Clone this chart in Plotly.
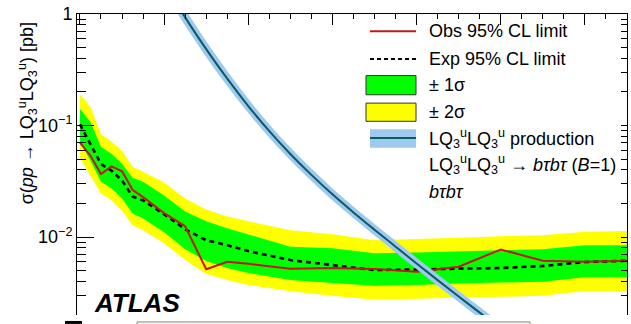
import plotly.graph_objects as go

# ---------------- data ----------------
mass = [200, 225, 250, 275, 300, 325, 350, 400, 450, 500, 550, 600,
        700, 800, 900, 1000, 1100, 1200, 1300, 1400, 1500]
obs = [0.0704, 0.0536, 0.0368, 0.0430, 0.0388, 0.0265, 0.0228, 0.0164, 0.0125,
       0.00514, 0.00600, 0.00576, 0.00520, 0.00528, 0.00517, 0.00489, 0.00542,
       0.00774, 0.00613, 0.00600, 0.00613]
exp = [0.1022, 0.0681, 0.0452, 0.0394, 0.0321, 0.0231, 0.0213, 0.0160, 0.01174,
       0.00937, 0.00846, 0.00748, 0.00622, 0.00561, 0.00506, 0.00512, 0.00522,
       0.00528, 0.00550, 0.00597, 0.00613]
p1s = [0.1405, 0.1076, 0.0644, 0.0558, 0.0455, 0.0341, 0.0314, 0.0236, 0.01698,
       0.01383, 0.01198, 0.01059, 0.00820, 0.00795, 0.00717, 0.00725, 0.00740,
       0.00763, 0.00779, 0.00846, 0.00846]
m1s = [0.0714, 0.0483, 0.0314, 0.0272, 0.0222, 0.0163, 0.0147, 0.01104, 0.00779,
       0.00609, 0.00528, 0.00476, 0.00412, 0.00388, 0.00365, 0.00372, 0.00384,
       0.00392, 0.00398, 0.00436, 0.00436]
p2s = [0.1910, 0.1463, 0.0841, 0.0714, 0.0593, 0.0427, 0.0386, 0.0308, 0.0222,
       0.0177, 0.0153, 0.01383, 0.0115, 0.01059, 0.00937, 0.00956, 0.00986,
       0.01017, 0.01038, 0.01115, 0.01133]
m2s = [0.0514, 0.0355, 0.0246, 0.0213, 0.0173, 0.01274, 0.0115, 0.00881, 0.00622,
       0.00466, 0.00412, 0.00372, 0.00326, 0.00297, 0.00274, 0.00279, 0.00283,
       0.00291, 0.00297, 0.00329, 0.00329]

theo_mass = [400, 450, 500, 550, 600, 650, 700, 750, 800, 850, 900, 950,
             1000, 1050, 1100, 1150, 1200, 1250]
theo_xsec = [1.862, 0.933, 0.484, 0.263, 0.1496, 0.0891, 0.0556, 0.0361, 0.02415,
             0.01663, 0.01164, 0.00820, 0.00579, 0.00411, 0.00293, 0.00210,
             0.001507, 0.001086]

ytick_vals = [0.01, 0.1, 1]
ytick_text = ["10<sup>\u22122</sup>", "10<sup>\u22121</sup>", "1"]
yminor_vals = [0.002, 0.003, 0.004, 0.005, 0.006, 0.007, 0.008, 0.009,
               0.02, 0.03, 0.04, 0.05, 0.06, 0.07, 0.08, 0.09,
               0.2, 0.3, 0.4, 0.5, 0.6, 0.7, 0.8, 0.9]

# ---------------- colours / geometry ----------------
W, H = 631, 324
ML, MR, MT, MB = 77, 4, 12, 9
PW, PH = W - ML - MR, H - MT - MB

GREEN = "#00ff00"
YELLOW = "#ffff00"
RED = "#c8141e"
BLUE_BAND = "#9ecaf0"
TEAL = "#0b5a64"
FONT = "Liberation Sans, Arial, Helvetica, sans-serif"


def px(x):
    return (x - ML) / PW


def py(y):
    return (H - MB - y) / PH


fig = go.Figure()

# yellow band
fig.add_trace(go.Scatter(x=mass + mass[::-1], y=p2s + m2s[::-1], fill="toself",
                         fillcolor=YELLOW, line=dict(width=0), mode="lines",
                         hoverinfo="skip", showlegend=False))
# green band
fig.add_trace(go.Scatter(x=mass + mass[::-1], y=p1s + m1s[::-1], fill="toself",
                         fillcolor=GREEN, line=dict(width=0), mode="lines",
                         hoverinfo="skip", showlegend=False))
# expected
fig.add_trace(go.Scatter(x=mass, y=exp, mode="lines",
                         line=dict(color="black", width=2.6, dash="5px,4px"),
                         showlegend=False))
# observed
fig.add_trace(go.Scatter(x=mass, y=obs, mode="lines",
                         line=dict(color=RED, width=2), showlegend=False))
# theory band + central line
fig.add_trace(go.Scatter(x=theo_mass, y=theo_xsec, mode="lines",
                         line=dict(color=BLUE_BAND, width=9, shape="spline", smoothing=1),
                         showlegend=False))
fig.add_trace(go.Scatter(x=theo_mass, y=theo_xsec, mode="lines",
                         line=dict(color=TEAL, width=2, shape="spline", smoothing=1),
                         showlegend=False))
# invisible trace to activate right-hand mirror axis
fig.add_trace(go.Scatter(x=mass[:1], y=exp[:1], mode="markers", yaxis="y2",
                         marker=dict(opacity=0), hoverinfo="skip", showlegend=False))

fig.update_layout(
    width=W, height=H, autosize=False,
    margin=dict(l=ML, r=MR, t=MT, b=MB),
    paper_bgcolor="white", plot_bgcolor="white",
    font=dict(family=FONT, size=18, color="black"),
    xaxis=dict(range=[193, 1500], side="top", showline=True, linecolor="black",
               linewidth=1, ticks="inside", ticklen=11, tickcolor="black",
               tick0=0, dtick=200, showticklabels=False, showgrid=False,
               zeroline=False,
               minor=dict(ticks="inside", ticklen=5, dtick=50, tickcolor="black",
                          showgrid=False)),
    yaxis=dict(type="log", range=[-2.69897, 0], showline=True, linecolor="black",
               linewidth=1, ticks="inside", ticklen=17, tickcolor="black",
               tickvals=ytick_vals, ticktext=ytick_text,
               tickfont=dict(size=18), showgrid=False, zeroline=False,
               minor=dict(ticks="inside", ticklen=9, tickvals=yminor_vals,
                          tickcolor="black", showgrid=False)),
    yaxis2=dict(type="log", range=[-2.69897, 0], overlaying="y", side="right",
                showline=True, linecolor="black", linewidth=1, ticks="inside",
                ticklen=6, tickcolor="black", tickvals=ytick_vals,
                showticklabels=False, showgrid=False, zeroline=False,
                minor=dict(ticks="inside", ticklen=6, tickvals=yminor_vals,
                           tickcolor="black", showgrid=False)),
)

# ---------------- legend (drawn by hand, ROOT style) ----------------
shapes = []
shapes.append(dict(type="line", xref="paper", yref="paper",
                   x0=px(370), x1=px(416), y0=py(29.3), y1=py(29.3),
                   line=dict(color=RED, width=2)))
shapes.append(dict(type="line", xref="paper", yref="paper",
                   x0=px(370), x1=px(416), y0=py(57.3), y1=py(57.3),
                   line=dict(color="black", width=2, dash="4px,3px")))
shapes.append(dict(type="rect", xref="paper", yref="paper",
                   x0=px(366), x1=px(416), y0=py(93.3), y1=py(74),
                   fillcolor=GREEN, line=dict(color="#333333", width=1)))
shapes.append(dict(type="rect", xref="paper", yref="paper",
                   x0=px(366), x1=px(416), y0=py(120), y1=py(101.7),
                   fillcolor=YELLOW, line=dict(color="#333333", width=1)))
shapes.append(dict(type="rect", xref="paper", yref="paper",
                   x0=px(370), x1=px(416), y0=py(146.7), y1=py(128),
                   fillcolor=BLUE_BAND, line=dict(width=0)))
shapes.append(dict(type="line", xref="paper", yref="paper",
                   x0=px(370), x1=px(416), y0=py(136.7), y1=py(136.7),
                   line=dict(color=TEAL, width=2)))
# fragments of the next panel visible at the very bottom edge of the crop
shapes.append(dict(type="rect", xref="paper", yref="paper",
                   x0=px(65), x1=px(82), y0=py(324), y1=py(321),
                   fillcolor="black", line=dict(width=0)))
shapes.append(dict(type="rect", xref="paper", yref="paper",
                   x0=px(137), x1=px(530), y0=py(326), y1=py(322),
                   fillcolor="#f6f6ee", line=dict(color="#888888", width=1)))
fig.update_layout(shapes=shapes)

LQ = "LQ<sub>3</sub><sup>u</sup>"
legend_text = [
    ("Obs 95% CL limit", 29),
    ("Exp 95% CL limit", 57),
    ("\u00b1 1\u03c3", 83),
    ("\u00b1 2\u03c3", 111),
    (LQ + LQ + " production", 137),
    (LQ + LQ + " \u2192 <i>b\u03c4b\u03c4</i> (<i>B</i>=1)", 163),
    ("<i>b\u03c4b\u03c4</i>", 191),
]
annotations = []
for txt, yy in legend_text:
    annotations.append(dict(text=txt, xref="paper", yref="paper", x=px(427), y=py(yy),
                            xanchor="left", yanchor="middle", showarrow=False,
                            font=dict(size=18, family=FONT)))

# y-axis title (ROOT: aligned to top end of axis)
annotations.append(dict(text="\u03c3(<i>pp</i> \u2192 " + LQ + LQ + ") [pb]",
                        xref="paper", yref="paper", x=px(27), y=py(112),
                        xanchor="center", yanchor="middle", textangle=-90,
                        showarrow=False, font=dict(size=18, family=FONT)))
# ATLAS label
annotations.append(dict(text="<b><i>ATLAS</i></b>", xref="paper", yref="paper",
                        x=px(92), y=py(303), xanchor="left", yanchor="middle",
                        showarrow=False, font=dict(size=26, family=FONT)))
fig.update_layout(annotations=annotations)

fig.write_html("out.html")
